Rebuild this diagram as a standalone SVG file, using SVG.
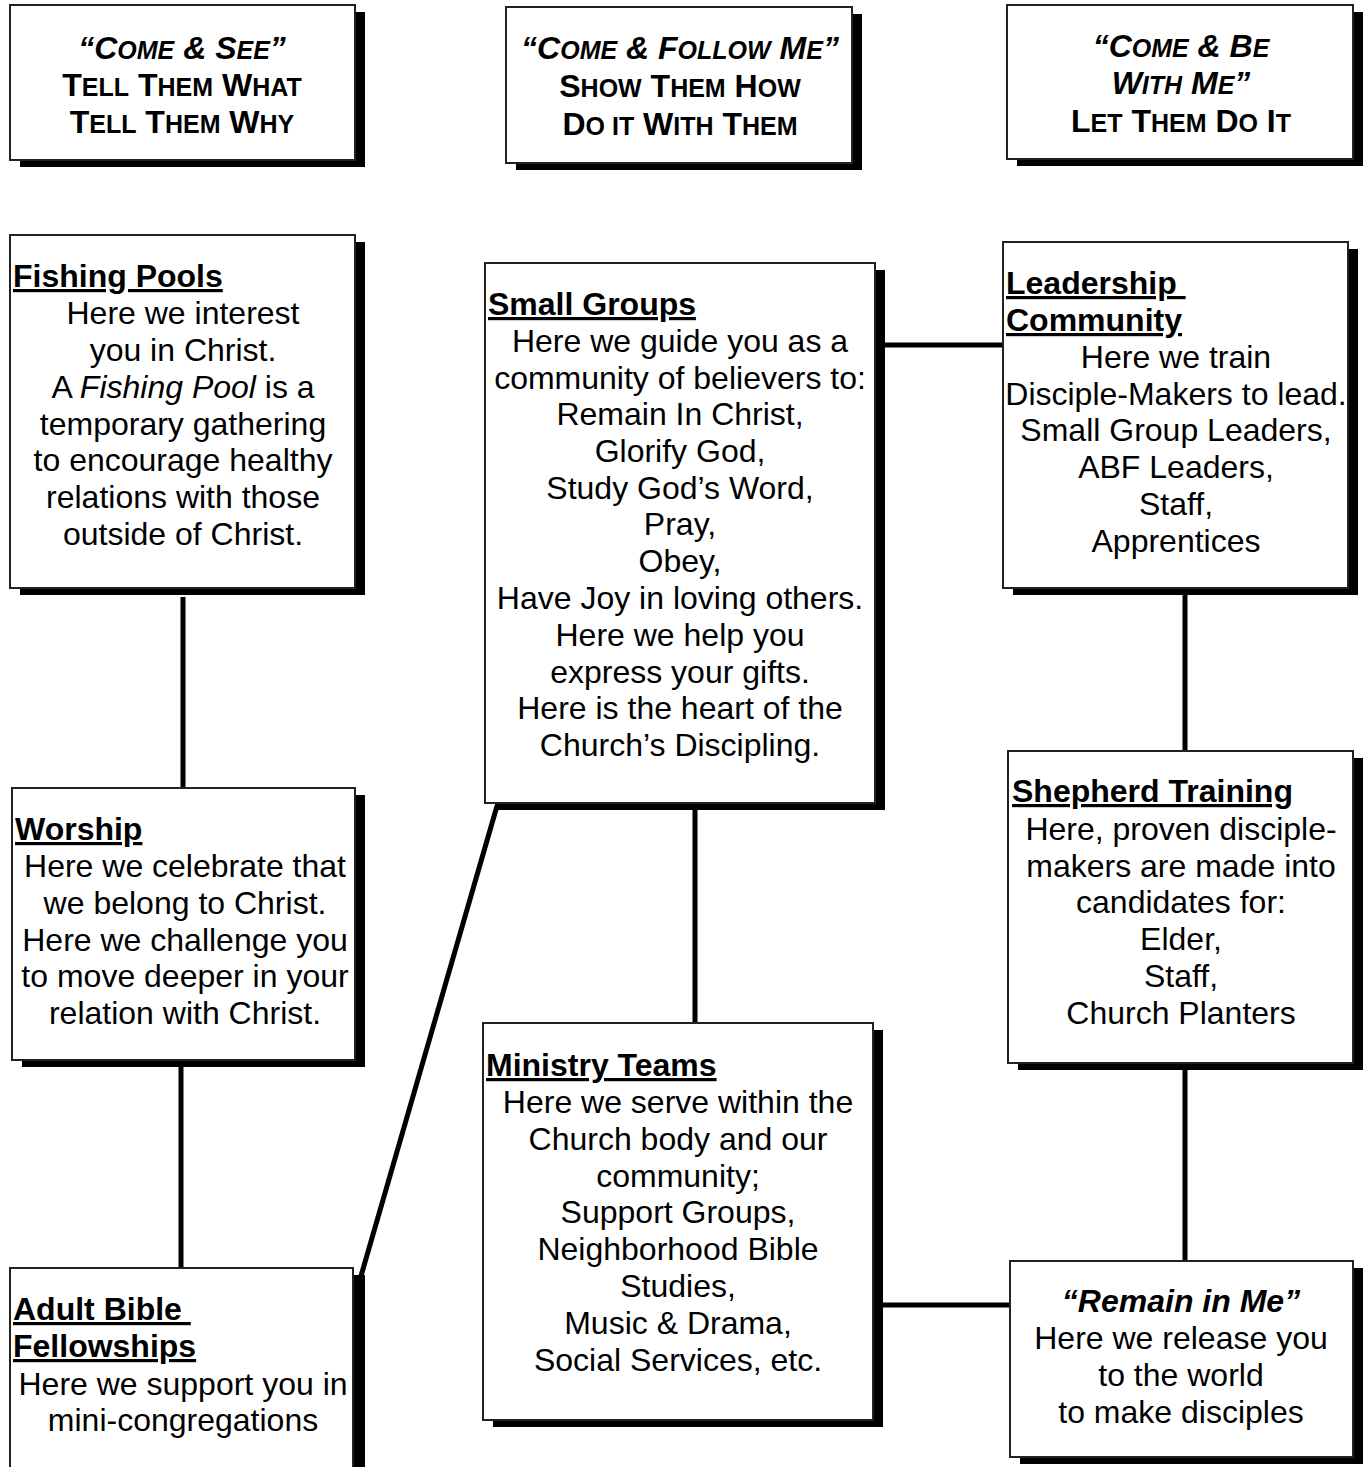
<svg xmlns="http://www.w3.org/2000/svg" width="1368" height="1467" viewBox="0 0 1368 1467">
<style>
.sh{fill:#000}
.bx{fill:#fff;stroke:#222;stroke-width:2}
.hd{font-family:"Liberation Sans",Arial,sans-serif;font-weight:bold;font-size:32px;text-anchor:middle;fill:#000}
.sc{font-size:25px}
.it{font-style:italic}
.t{font-family:"Liberation Sans",Arial,sans-serif;font-size:32px;text-anchor:middle;fill:#000}
.h{font-family:"Liberation Sans",Arial,sans-serif;font-size:32px;font-weight:bold;text-decoration:underline;fill:#000;white-space:pre}
.c{stroke:#000;stroke-width:5;fill:none}
</style>
<rect width="1368" height="1467" fill="#fff"/>
<g id="connectors">
<line class="c" x1="183" y1="597" x2="183" y2="789"/>
<line class="c" x1="181" y1="1067" x2="181" y2="1268"/>
<line class="c" x1="497" y1="806" x2="361" y2="1276"/>
<line class="c" x1="695" y1="810" x2="695" y2="1023"/>
<line class="c" x1="885" y1="345" x2="1003" y2="345"/>
<line class="c" x1="1185" y1="595" x2="1185" y2="751"/>
<line class="c" x1="1185" y1="1070" x2="1185" y2="1261"/>
<line class="c" x1="883" y1="1305" x2="1010" y2="1305"/>
</g>
<g id="hdr1">
<rect class="sh" x="20" y="12" width="345" height="155"/>
<rect class="bx" x="10" y="5" width="345" height="155"/>
<text class="hd it" x="182" y="59">“C<tspan class="sc">OME</tspan> &amp; S<tspan class="sc">EE</tspan>”</text>
<text class="hd" x="182" y="96">T<tspan class="sc">ELL</tspan> T<tspan class="sc">HEM</tspan> W<tspan class="sc">HAT</tspan></text>
<text class="hd" x="182" y="133">T<tspan class="sc">ELL</tspan> T<tspan class="sc">HEM</tspan> W<tspan class="sc">HY</tspan></text>
</g>
<g id="hdr2">
<rect class="sh" x="516" y="14" width="346" height="156"/>
<rect class="bx" x="506" y="7" width="346" height="156"/>
<text class="hd it" x="680" y="59">“C<tspan class="sc">OME</tspan> &amp; F<tspan class="sc">OLLOW</tspan> M<tspan class="sc">E</tspan>”</text>
<text class="hd" x="680" y="97">S<tspan class="sc">HOW</tspan> T<tspan class="sc">HEM</tspan> H<tspan class="sc">OW</tspan></text>
<text class="hd" x="680" y="135">D<tspan class="sc">O IT</tspan> W<tspan class="sc">ITH</tspan> T<tspan class="sc">HEM</tspan></text>
</g>
<g id="hdr3">
<rect class="sh" x="1017" y="12" width="346" height="154"/>
<rect class="bx" x="1007" y="5" width="346" height="154"/>
<text class="hd it" x="1181" y="57">“C<tspan class="sc">OME</tspan> &amp; B<tspan class="sc">E</tspan></text>
<text class="hd it" x="1181" y="94">W<tspan class="sc">ITH</tspan> M<tspan class="sc">E</tspan>”</text>
<text class="hd" x="1181" y="132">L<tspan class="sc">ET</tspan> T<tspan class="sc">HEM</tspan> D<tspan class="sc">O</tspan> I<tspan class="sc">T</tspan></text>
</g>
<g id="fishing">
<rect class="sh" x="20" y="242" width="345" height="353"/>
<rect class="bx" x="10" y="235" width="345" height="353"/>
<text class="h" x="13" y="287">Fishing Pools</text>
<text class="t" x="183" y="324">Here we interest</text>
<text class="t" x="183" y="361">you in Christ.</text>
<text class="t" x="183" y="398">A <tspan class="it">Fishing Pool</tspan> is a</text>
<text class="t" x="183" y="435">temporary gathering</text>
<text class="t" x="183" y="471">to encourage healthy</text>
<text class="t" x="183" y="508">relations with those</text>
<text class="t" x="183" y="545">outside of Christ.</text>
</g>
<g id="smallgroups">
<rect class="sh" x="495" y="270" width="390" height="540"/>
<rect class="bx" x="485" y="263" width="390" height="540"/>
<text class="h" x="488" y="315">Small Groups</text>
<text class="t" x="680" y="352">Here we guide you as a</text>
<text class="t" x="680" y="389">community of believers to:</text>
<text class="t" x="680" y="425">Remain In Christ,</text>
<text class="t" x="680" y="462">Glorify God,</text>
<text class="t" x="680" y="499">Study God’s Word,</text>
<text class="t" x="680" y="535">Pray,</text>
<text class="t" x="680" y="572">Obey,</text>
<text class="t" x="680" y="609">Have Joy in loving others.</text>
<text class="t" x="680" y="646">Here we help you</text>
<text class="t" x="680" y="683">express your gifts.</text>
<text class="t" x="680" y="719">Here is the heart of the</text>
<text class="t" x="680" y="756">Church’s Discipling.</text>
</g>
<g id="leadership">
<rect class="sh" x="1013" y="249" width="345" height="346"/>
<rect class="bx" x="1003" y="242" width="345" height="346"/>
<text class="h" x="1006" y="294">Leadership </text>
<text class="h" x="1006" y="331">Community</text>
<text class="t" x="1176" y="368">Here we train</text>
<text class="t" x="1176" y="405">Disciple-Makers to lead.</text>
<text class="t" x="1176" y="441">Small Group Leaders,</text>
<text class="t" x="1176" y="478">ABF Leaders,</text>
<text class="t" x="1176" y="515">Staff,</text>
<text class="t" x="1176" y="552">Apprentices</text>
</g>
<g id="worship">
<rect class="sh" x="22" y="795" width="343" height="272"/>
<rect class="bx" x="12" y="788" width="343" height="272"/>
<text class="h" x="15" y="840">Worship</text>
<text class="t" x="185" y="877">Here we celebrate that</text>
<text class="t" x="185" y="914">we belong to Christ.</text>
<text class="t" x="185" y="951">Here we challenge you</text>
<text class="t" x="185" y="987">to move deeper in your</text>
<text class="t" x="185" y="1024">relation with Christ.</text>
</g>
<g id="shepherd">
<rect class="sh" x="1018" y="758" width="345" height="312"/>
<rect class="bx" x="1008" y="751" width="345" height="312"/>
<text class="h" x="1012" y="802">Shepherd Training</text>
<text class="t" x="1181" y="840">Here, proven disciple-</text>
<text class="t" x="1181" y="877">makers are made into</text>
<text class="t" x="1181" y="913">candidates for:</text>
<text class="t" x="1181" y="950">Elder,</text>
<text class="t" x="1181" y="987">Staff,</text>
<text class="t" x="1181" y="1024">Church Planters</text>
</g>
<g id="ministry">
<rect class="sh" x="493" y="1030" width="390" height="397"/>
<rect class="bx" x="483" y="1023" width="390" height="397"/>
<text class="h" x="486" y="1076">Ministry Teams</text>
<text class="t" x="678" y="1113">Here we serve within the</text>
<text class="t" x="678" y="1150">Church body and our</text>
<text class="t" x="678" y="1187">community;</text>
<text class="t" x="678" y="1223">Support Groups,</text>
<text class="t" x="678" y="1260">Neighborhood Bible</text>
<text class="t" x="678" y="1297">Studies,</text>
<text class="t" x="678" y="1334">Music &amp; Drama,</text>
<text class="t" x="678" y="1371">Social Services, etc.</text>
</g>
<g id="adult">
<rect class="sh" x="20" y="1275" width="345" height="220"/>
<rect class="bx" x="10" y="1268" width="343" height="220"/>
<text class="h" x="13" y="1320">Adult Bible </text>
<text class="h" x="13" y="1357">Fellowships</text>
<text class="t" x="183" y="1395">Here we support you in</text>
<text class="t" x="183" y="1431">mini-congregations</text>
</g>
<g id="remain">
<rect class="sh" x="1020" y="1268" width="343" height="196"/>
<rect class="bx" x="1010" y="1261" width="343" height="196"/>
<text class="t it" x="1181" y="1312" font-weight="bold">“Remain in Me”</text>
<text class="t" x="1181" y="1349">Here we release you</text>
<text class="t" x="1181" y="1386">to the world</text>
<text class="t" x="1181" y="1423">to make disciples</text>
</g>
</svg>
